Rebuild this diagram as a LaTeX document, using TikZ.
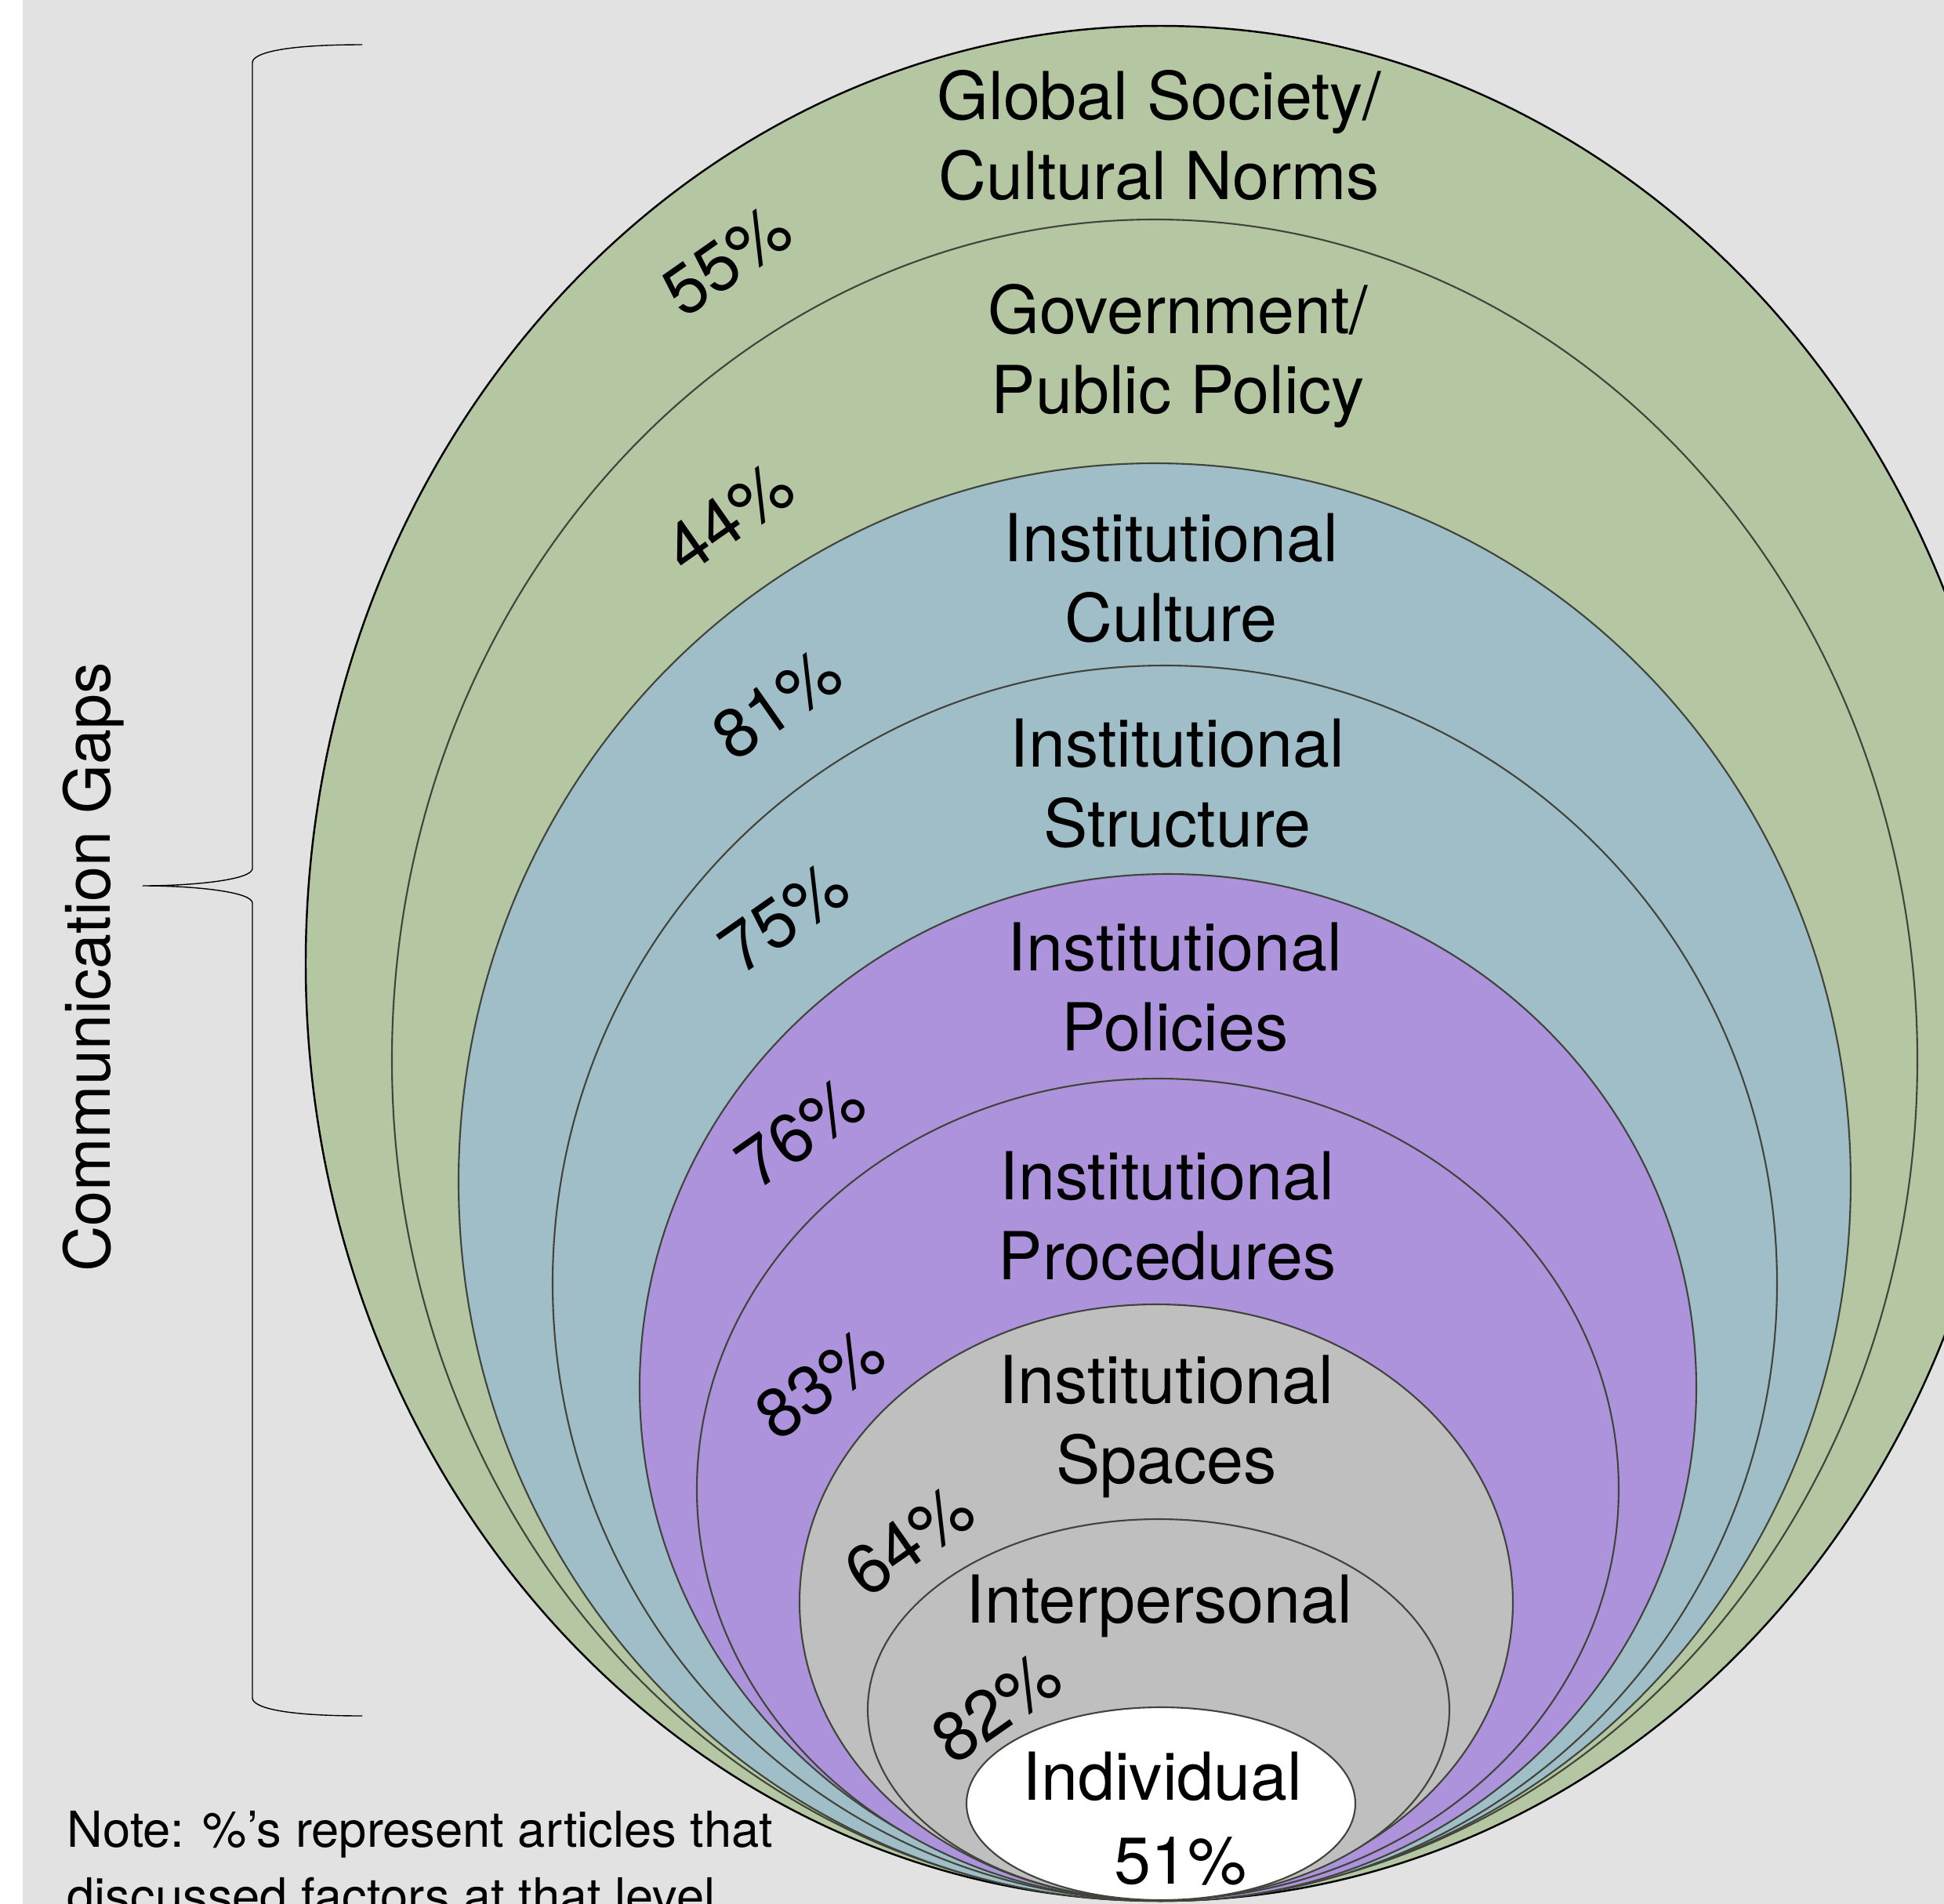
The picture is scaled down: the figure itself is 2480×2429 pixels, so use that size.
\documentclass[tikz,border=0pt]{standalone}
\usepackage{fontspec}
\setmainfont{TeX Gyre Heros}

\definecolor{society}{HTML}{B4C6A2}
\definecolor{institution}{HTML}{A0BEC8}
\definecolor{policy}{HTML}{AD93DB}
\definecolor{space}{HTML}{BFBFBF}
\definecolor{backdrop}{HTML}{E2E2E2}
\definecolor{rim}{HTML}{40443A}

\begin{document}
\begin{tikzpicture}[x=0.01cm, y=-0.01cm,
    level/.style={draw=rim, line width=0.6pt},
    tag/.style={font=\fontsize{24}{28.8}\selectfont, align=center, anchor=base, inner sep=0pt},
    pct/.style={font=\fontsize{25}{30}\selectfont, rotate=35, inner sep=0pt}]
  \useasboundingbox (0,0) rectangle (2480,2429);
  \clip (0,0) rectangle (2480,2429);
  \fill[white] (0,0) rectangle (29,2429);
  \fill[backdrop] (29,0) rectangle (2480,2429);

  % nested levels, all touching at the bottom
  \filldraw[fill=society, draw=black, line width=0.7pt] (1480,1229) ellipse [x radius=1090, y radius=1196];
  \foreach \cx/\cy/\rx/\ry/\col in {1473/1352/973/1072/society, 1473/1508/888/917/institution,
      1486/1637/781/788/institution, 1490/1770/674/655/policy, 1477/1900/588/524/policy,
      1475/2044/455/380/space, 1478/2181/371/243/space, 1481/2301/248/123/white}
    \filldraw[level, fill=\col] (\cx,\cy) ellipse [x radius=\rx, y radius=\ry];

  \node[tag] (global) at (1479,254) {Global Society/\\Cultural Norms};
  \node[tag] (government) at (1503,527) {Government/\\Public Policy};
  \node[tag] (culture) at (1494,818) {Institutional\\Culture};
  \node[tag] (structure) at (1502,1080) {Institutional\\Structure};
  \node[tag] (policies) at (1499,1340) {Institutional\\Policies};
  \node[tag] (procedures) at (1489,1632) {Institutional\\Procedures};
  \node[tag] (spaces) at (1488,1892) {Institutional\\Spaces};
  \node[tag] (interpersonal) at (1479,2070) {Interpersonal};
  \node[tag] (individual) at (1483,2403) {Individual\\[1.4pt]\hspace*{0.46cm}51\%};

  \node[pct] (p55) at (927,332) {55\%};
  \node[pct] (p44) at (930,660) {44\%};
  \node[pct] (p81) at (991,898) {81\%};
  \node[pct] (p75) at (1000,1170) {75\%};
  \node[pct] (p76) at (1021,1444) {76\%};
  \node[pct] (p83) at (1046,1765) {83\%};
  \node[pct] (p64) at (1160,1965) {64\%};
  \node[pct] (p82) at (1271,2178) {82\%};

  % brace on the left
  \draw[line width=0.4pt] (462,57) .. controls (360,57) and (322,68) .. (322,80)
    -- (322,1108) .. controls (322,1122) and (250,1130) .. (182,1130)
    .. controls (250,1130) and (322,1138) .. (322,1152)
    -- (322,2166) .. controls (322,2178) and (360,2189) .. (462,2189);
  \node[rotate=90, anchor=base, inner sep=0pt, font=\fontsize{23}{27}\selectfont] (gaps) at (140,1234) {Communication Gaps};

  \node[anchor=north west, align=left, inner sep=0pt, font=\fontsize{18}{24.2}\selectfont] (note) at (85,2310)
    {Note: \%’s represent articles that\\discussed factors at that level};
\end{tikzpicture}
\end{document}
